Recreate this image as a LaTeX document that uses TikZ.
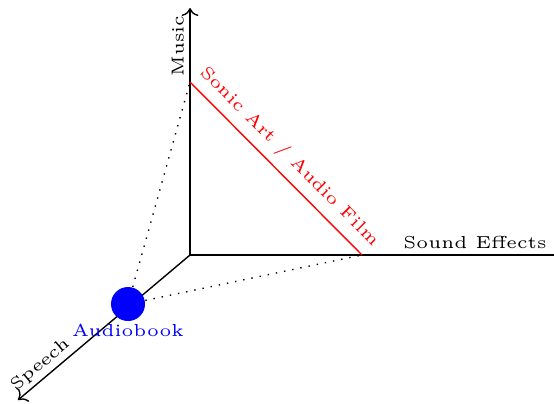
\documentclass[tikz,border=0pt]{standalone}
\usetikzlibrary{arrows.meta}
\begin{document}
\begin{tikzpicture}[x=0.288pt,y=-0.288pt,
  axis/.style={draw=black,line width=0.4pt},
  lbl/.style={font=\tiny,inner sep=1pt},
  dots/.style={dotted,line width=0.4pt}]
\useasboundingbox (0,0) rectangle (554,403);
\coordinate (O) at (190,255);
\coordinate (M) at (190,8);
\coordinate (S) at (556,255);
\coordinate (P) at (18,400);
\coordinate (A) at (190,82);
\coordinate (B) at (362,255);
\draw[axis,-{To[length=2.3pt]}] (O) -- (M);
\draw[axis] (O) -- (S);
\draw[axis,-{To[length=2.3pt]}] (O) -- (P);
\node[lbl,rotate=90,anchor=south] (music) at (188,46) {Music};
\node[lbl,anchor=south] (sfx) at (475,253) {Sound Effects};
\node[lbl,rotate=40,anchor=south] (speech) at (48,374) {Speech};
\draw[red,line width=0.4pt] (A) -- (B);
\node[lbl,red,rotate=-45,anchor=south] (sonic) at (280,166) {Sonic Art / Audio Film};
\node[circle,fill=blue,minimum size=34*0.288pt,inner sep=0pt] (ab) at (128,304) {};
\node[lbl,blue,anchor=north] (abl) at (128,320) {Audiobook};
\draw[dots] (ab) -- (A);
\draw[dots] (ab) -- (B);
\end{tikzpicture}
\end{document}
